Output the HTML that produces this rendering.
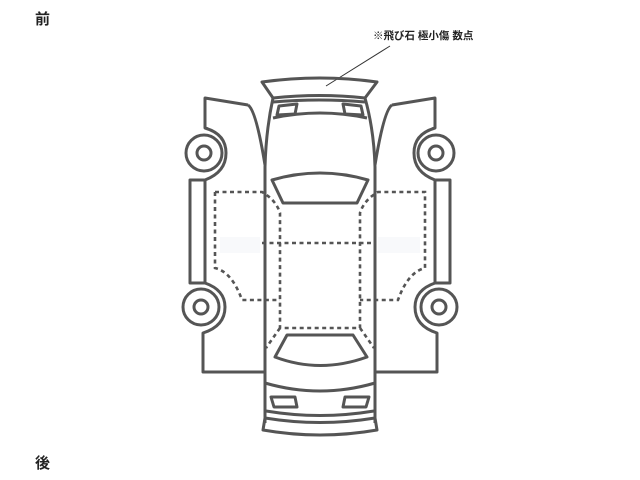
<!DOCTYPE html>
<html><head><meta charset="utf-8"><style>
html,body{margin:0;padding:0;background:#fff;width:640px;height:480px;overflow:hidden}
svg{display:block}
text{font-family:"Liberation Sans","Noto Sans CJK JP",sans-serif;fill:#222;font-weight:bold}
</style></head><body>
<svg width="640" height="480" viewBox="0 0 640 480" xmlns="http://www.w3.org/2000/svg">
<text x="35" y="24" font-size="15">前</text>
<text x="35" y="468" font-size="15">後</text>
<text x="373" y="39" font-size="10.5">※飛び石 極小傷 数点</text>
<line x1="390" y1="46" x2="326" y2="86" stroke="#333" stroke-width="1"/>
<rect x="220" y="237" width="40" height="16" fill="#f8f9fb"/>
<rect x="378" y="237" width="42" height="16" fill="#f8f9fb"/>
<g fill="none" stroke="#555" stroke-width="3" stroke-linejoin="round">
 <path d="M262,82 Q320,74 377,82 L365,98 Q320,93 273,98 Z"/>
 <path d="M273,102 Q320,98 365,102"/>
 <path d="M279,106 L297,104 L295,114 L277,115 Z"/>
 <path d="M343,104 L361,106 L363,115 L345,114 Z"/>
 <path d="M273,98 Q266,130 265,167 L265,423"/>
 <path d="M365,98 Q374,130 375,167 L375,423"/>
 <path d="M273,118 Q320,108 367,118"/>
 <path d="M272,180 Q320,166 368,180 L357,203 L283,203 Z"/>
 <path d="M248,105 L205,98 L205,128 Q226,134 226,153 Q226,172 205,180"/>
 <path d="M248,105 Q256,110 265,165"/>
 <circle cx="204" cy="153" r="18"/>
 <circle cx="204" cy="153" r="7"/>
 <path d="M205,180 L190,180 L190,283 L205,283"/>
 <path d="M205,180 L205,283"/>
 <path d="M205,283 Q225,290 225,307 Q225,326 203,333 L203,372 L265,372"/>
 <circle cx="201" cy="307" r="18"/>
 <circle cx="201" cy="307" r="7"/>
 <path d="M392,105 L435,98 L435,128 Q414,134 414,153 Q414,172 435,180"/>
 <path d="M392,105 Q384,110 375,165"/>
 <circle cx="436" cy="153" r="18"/>
 <circle cx="436" cy="153" r="7"/>
 <path d="M435,180 L450,180 L450,283 L435,283"/>
 <path d="M435,180 L435,283"/>
 <path d="M435,283 Q415,290 415,307 Q415,326 437,333 L437,372 L375,372"/>
 <circle cx="439" cy="307" r="18"/>
 <circle cx="439" cy="307" r="7"/>
 <path d="M287,335 L353,335 L367,357 Q320,374 275,357 Z"/>
 <path d="M265,383 Q320,399 375,383"/>
 <path d="M271,397 L295,397 L297,407 L274,407 Z"/>
 <path d="M345,397 L369,397 L366,407 L343,407 Z"/>
 <path d="M266,411 Q320,420 374,411"/>
 <path d="M265,418 Q320,427 375,418"/>
 <path d="M265,418 L263,430 Q320,440 377,430 L375,418"/>
</g>
<g fill="none" stroke="#555" stroke-width="2.6" stroke-dasharray="4,3.5">
 <path d="M215,192 L262,192 Q276,200 280,213 L280,328 L360,328 L360,213 Q364,200 378,192 L425,192 L425,268 Q408,272 398,300 L360,300"/>
 <path d="M215,192 L215,268 Q232,272 242,300 L280,300"/>
 <path d="M262,243 L375,243"/>
 <path d="M280,328 L266,348"/>
 <path d="M360,328 L374,348"/>
</g>
</svg>
</body></html>
